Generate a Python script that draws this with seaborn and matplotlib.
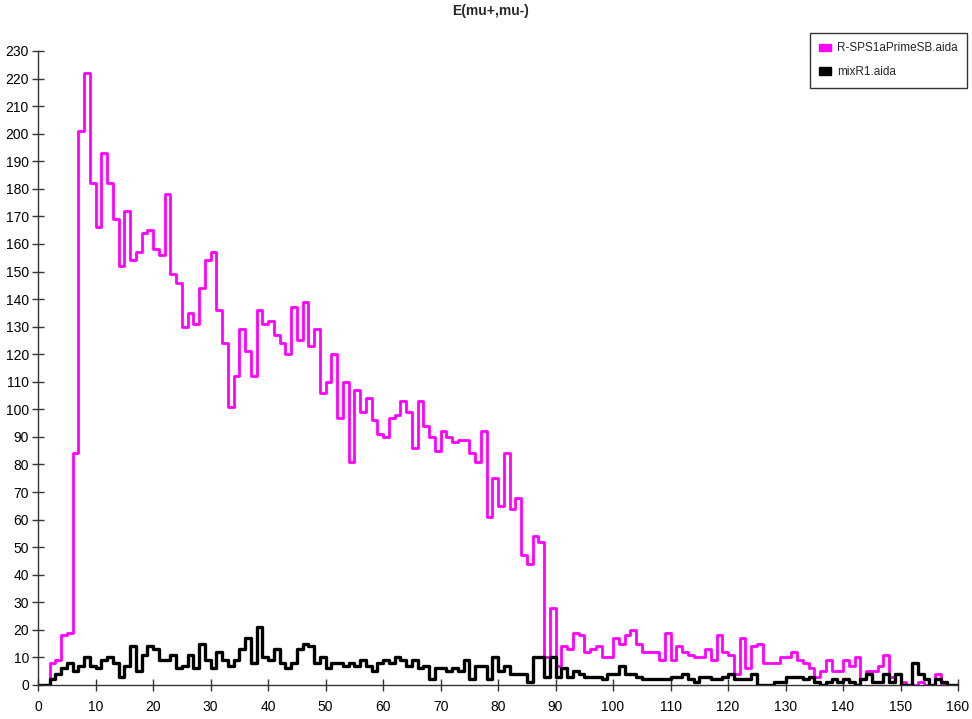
import numpy as np
import pandas as pd
import seaborn as sns
import matplotlib.pyplot as plt
from matplotlib.patches import Patch

# bin edges 0..160, width 1
bin_edges = list(range(0, 161))

# R-SPS1aPrimeSB.aida counts per bin
sps1a_counts = [
    0, 0, 8, 9, 18, 19, 84, 201, 222, 182,
    166, 193, 182, 169, 152, 172, 154, 157, 164, 165,
    158, 156, 178, 149, 146, 130, 135, 131, 144, 154,
    157, 136, 124, 101, 112, 129, 121, 112, 136, 131,
    132, 127, 124, 120, 137, 125, 139, 123, 129, 106,
    110, 120, 97, 110, 81, 107, 99, 104, 96, 91,
    90, 97, 98, 103, 99, 86, 103, 94, 90, 85,
    92, 90, 88, 89, 89, 84, 81, 92, 61, 75,
    65, 84, 64, 68, 47, 44, 54, 52, 10, 28,
    7, 14, 13, 19, 18, 12, 13, 14, 10, 10,
    17, 15, 18, 20, 15, 12, 12, 12, 9, 19,
    9, 14, 12, 11, 10, 10, 13, 9, 18, 12,
    11, 4, 17, 6, 14, 15, 8, 8, 8, 10,
    10, 12, 9, 8, 6, 3, 5, 9, 5, 5,
    9, 7, 10, 2, 5, 5, 7, 11, 3, 4,
    1, 0, 0, 1, 0, 0, 4, 0, 0, 0,
]

# mixR1.aida counts per bin
mix_counts = [
    0, 0, 2, 4, 6, 8, 5, 7, 10, 7,
    6, 9, 10, 8, 3, 7, 14, 5, 11, 14,
    13, 9, 9, 11, 6, 7, 11, 6, 15, 9,
    6, 12, 9, 7, 9, 13, 17, 8, 21, 10,
    9, 13, 8, 6, 8, 13, 15, 14, 8, 10,
    6, 8, 8, 7, 8, 7, 9, 7, 5, 8,
    9, 8, 10, 9, 7, 9, 6, 7, 2, 6,
    6, 5, 6, 5, 9, 2, 7, 7, 2, 10,
    5, 7, 4, 4, 4, 1, 10, 10, 3, 10,
    3, 6, 3, 5, 4, 3, 3, 3, 2, 4,
    4, 7, 4, 4, 3, 2, 2, 2, 2, 2,
    3, 3, 4, 2, 1, 3, 3, 2, 2, 3,
    4, 2, 2, 2, 4, 0, 0, 0, 1, 1,
    3, 3, 3, 2, 3, 1, 0, 1, 2, 1,
    2, 1, 0, 2, 4, 1, 1, 4, 1, 4,
    0, 0, 8, 4, 2, 0, 2, 1, 0, 0,
]

series_names = ["R-SPS1aPrimeSB.aida", "mixR1.aida"]
series_colors = ["#ff00ff", "#000000"]

centers = np.array(bin_edges[:-1]) + 0.5
df = pd.DataFrame({
    "E": np.concatenate([centers, centers]),
    "count": sps1a_counts + mix_counts,
    "sample": [series_names[0]] * len(centers) + [series_names[1]] * len(centers),
})

sns.set_style("ticks")
plt.rcParams["font.family"] = ["Liberation Sans", "DejaVu Sans"]

fig = plt.figure(figsize=(9.72, 7.19), dpi=100)
ax = fig.add_axes([38 / 972, 1 - 685 / 719, (958 - 38) / 972, (685 - 51) / 719])

# one step outline per sample, black drawn last so it sits on top
for name, color, lw in zip(series_names, series_colors, [2.0, 2.4]):
    sns.histplot(data=df[df["sample"] == name], x="E", weights="count",
                 bins=bin_edges, element="step", fill=False,
                 color=color, linewidth=lw, ax=ax)

ax.set_xlim(0, 160)
ax.set_ylim(0, 230)
ax.set_xticks(range(0, 161, 10))
ax.set_yticks(range(0, 231, 10))
ax.set_xlabel("")
ax.set_ylabel("")
sns.despine(ax=ax)
for s in ["left", "bottom"]:
    ax.spines[s].set_color("#333333")
    ax.spines[s].set_linewidth(1.0)
ax.tick_params(axis="both", direction="inout", length=9, width=1.0,
               color="#333333", labelsize=10, labelcolor="black")
ax.tick_params(axis="x", pad=6)
ax.tick_params(axis="y", pad=2)

fig.suptitle("E(mu+,mu-)", x=0.505, y=0.995, fontsize=10, fontweight="bold")

handles = [Patch(facecolor=c, edgecolor=c) for c in series_colors]
leg = fig.legend(handles, series_names, loc="upper right",
                 bbox_to_anchor=(967 / 972, 1 - 33 / 719),
                 fontsize=8.5, frameon=True, fancybox=False,
                 handlelength=1.0, handleheight=0.6, handletextpad=0.5,
                 borderpad=0.8, labelspacing=1.0, borderaxespad=0)
leg.get_frame().set_edgecolor("black")
leg.get_frame().set_linewidth(1.0)

fig.savefig("out.png", dpi=100)
